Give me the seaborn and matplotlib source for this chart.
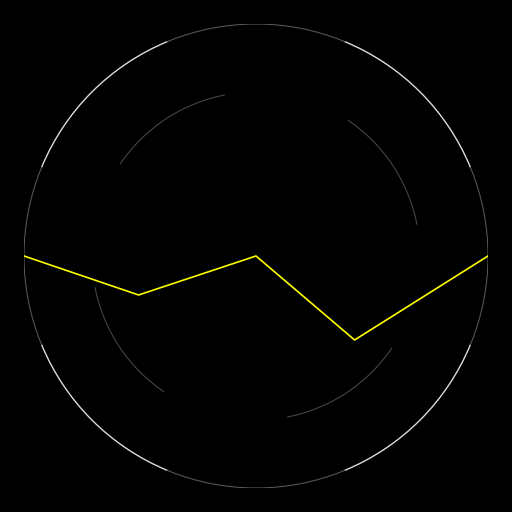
import numpy as np
import matplotlib
matplotlib.use('Agg')
import matplotlib.pyplot as plt
import matplotlib.patches as mpatches
import seaborn as sns

# yellow trace values (unit-circle coordinates)
x_vals = [-1.0, -0.506, 0.0, 0.425, 1.0]
y_vals = [0.0, -0.168, 0.0, -0.362, 0.0]

# decorative ring segments (degrees)
outer_bright = [(22.5, 67.5), (112.5, 157.5), (202.5, 247.5), (292.5, 337.5)]
inner_arcs = [(11, 56), (101, 146), (191, 236), (281, 326)]

sns.set_theme(style='dark')
plt.rcParams['font.family'] = ['DejaVu Sans']

fig = plt.figure(figsize=(5.12, 5.12), dpi=100, facecolor='black')
ax = fig.add_axes([24 / 512, 24 / 512, 464 / 512, 464 / 512])
ax.set_facecolor('black')

# outer ring (dim) + bright segments
ax.add_patch(mpatches.Circle((0, 0), 1.0, fill=False, edgecolor='#555555', lw=0.8))
for t1, t2 in outer_bright:
    ax.add_patch(mpatches.Arc((0, 0), 2.0, 2.0, theta1=t1, theta2=t2,
                              edgecolor='#e0e0e0', lw=0.9))
# inner dashed ring
for t1, t2 in inner_arcs:
    ax.add_patch(mpatches.Arc((0, 0), 1.414, 1.414, theta1=t1, theta2=t2,
                              edgecolor='#444444', lw=0.8))

sns.lineplot(x=x_vals, y=y_vals, sort=False, color='#ffff00', linewidth=1.2,
             ax=ax, estimator=None)

ax.set_xlim(-1, 1)
ax.set_ylim(-1, 1)
ax.set_aspect('equal')
ax.axis('off')

fig.savefig('out.png', dpi=100, facecolor='black')
